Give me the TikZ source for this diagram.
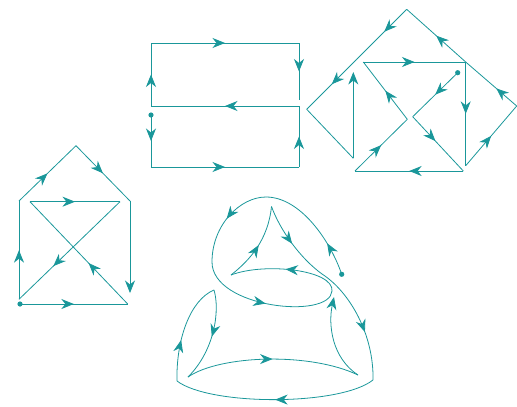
\documentclass[tikz,border=0pt]{standalone}
\usetikzlibrary{arrows.meta, decorations.markings}
\definecolor{pathteal}{HTML}{1A979A}

\begin{document}
\begin{tikzpicture}[x=1pt, y=-1pt,
                    >={Stealth[length=12.5pt, width=10pt, inset=4pt]},
                    seg/.style={pathteal, line width=0.8pt},
                    arr/.style={postaction={decorate, decoration={markings,
                        mark=at position #1 with {\arrow{>}}}}},
                    arr/.default=0.5]

  \useasboundingbox (0,0) rectangle (517,407);

  %% 圖一: 兩個相疊的長方形
  \coordinate (a1) at (151,115);
  \coordinate (a2) at (151,167);
  \coordinate (a3) at (299,167);
  \coordinate (a4) at (299,106);
  \coordinate (a5) at (151,106);
  \coordinate (a6) at (151,43);
  \coordinate (a7) at (299,43);
  \coordinate (a8) at (299,100);
  \fill[pathteal] (a1) circle (2.6);
  \draw[seg, arr] (a1) -- (a2);
  \draw[seg, arr] (a2) -- (a3);
  \draw[seg, arr] (a3) -- (a4);
  \draw[seg, arr] (a4) -- (a5);
  \draw[seg, arr] (a5) -- (a6);
  \draw[seg, arr] (a6) -- (a7);
  \draw[seg, arr] (a7) -- (a8);

  %% 圖二: 菱形與內部的折線
  \coordinate (b1) at (457.7,72.7);
  \coordinate (b2) at (412.7,116.7);
  \coordinate (b3) at (463.3,171);
  \coordinate (b4) at (355,171);
  \coordinate (b5) at (407.3,119.3);
  \coordinate (b6) at (363.3,62);
  \coordinate (b7) at (465.7,62);
  \coordinate (b8) at (465.7,165.7);
  \coordinate (b9) at (516.7,106);
  \coordinate (b10) at (406.7,9.3);
  \coordinate (b11) at (356.7,59.3);
  \coordinate (b12) at (306.7,109.3);
  \coordinate (b13) at (353.3,158.3);
  \coordinate (b14) at (353.3,72);
  \fill[pathteal] (b1) circle (2.6);
  \draw[seg, arr] (b1) -- (b2);
  \draw[seg, arr=0.45] (b2) -- (b3);
  \draw[seg, arr] (b3) -- (b4);
  \draw[seg, arr] (b4) -- (b5);
  \draw[seg, arr] (b5) -- (b6);
  \draw[seg, arr] (b6) -- (b7);
  \draw[seg, arr] (b7) -- (b8);
  \draw[seg, arr] (b8) -- (b9);
  \draw[seg, arr=0.4] (b9) -- (b7);
  \draw[seg, arr] (b7) -- (b10);
  \draw[seg, arr=0.45] (b10) -- (b11);
  \draw[seg, arr] (b11) -- (b12);
  \draw[seg] (b12) -- (b13);
  \draw[seg, ->] (b13) -- (b14);

  %% 圖三: 房子
  \coordinate (h0) at (20,304);
  \coordinate (h1) at (127.7,304);
  \coordinate (h2) at (30,201.7);
  \coordinate (h3) at (120,201.7);
  \coordinate (h4) at (19,299.3);
  \coordinate (h5) at (19,201);
  \coordinate (h6) at (76,145.7);
  \coordinate (h7) at (130,201);
  \coordinate (h8) at (130,293);
  \fill[pathteal] (h0) circle (2.6);
  \draw[seg, arr] (h0) -- (h1);
  \draw[seg, arr=0.4] (h1) -- (h2);
  \draw[seg, arr] (h2) -- (h3);
  \draw[seg, arr=0.66] (h3) -- (h4);
  \draw[seg, arr] (h4) -- (h5);
  \draw[seg, arr] (h5) -- (h6);
  \draw[seg, arr] (h6) -- (h7);
  \draw[seg, ->] (h7) -- (h8);

  %% 圖四: 曲線構成的圖形
  \coordinate (dD) at (341.7,274.3);
  \coordinate (dT) at (266,197);
  \coordinate (dL) at (212,262);
  \coordinate (dR) at (332,291);
  \coordinate (dC1) at (231,275);
  \coordinate (dC2) at (271.5,206.5);
  \coordinate (dM) at (322,274);
  \coordinate (dBR) at (373,380);
  \coordinate (dBL) at (177,381);
  \coordinate (dLT) at (214,290);
  \coordinate (dC3) at (188,377);
  \coordinate (dC4) at (358,375);
  \coordinate (dE) at (334,297);
  \fill[pathteal] (dD) circle (2.6);
  \draw[seg, arr=0.3] (dD) .. controls (330,240) and (300,197) .. (dT);
  \draw[seg, arr] (dT) .. controls (240,197) and (212,225) .. (dL);
  \draw[seg, arr] (dL) .. controls (212,308) and (330,320) .. (dR);
  \draw[seg, arr] (dR) .. controls (334,270) and (265,262) .. (dC1);
  \draw[seg, arr] (dC1) .. controls (250,260) and (268,240) .. (dC2);
  \draw[seg, arr] (dC2) .. controls (280,230) and (300,258) .. (dM);
  \draw[seg, arr=0.6] (dM) .. controls (350,292) and (374,335) .. (dBR);
  \draw[seg, arr] (dBR) .. controls (340,406) and (210,406) .. (dBL);
  \draw[seg, arr=0.4] (dBL) .. controls (176,340) and (190,300) .. (dLT);
  \draw[seg, arr] (dLT) .. controls (220,310) and (215,350) .. (dC3);
  \draw[seg, arr] (dC3) .. controls (220,355) and (310,352) .. (dC4);
  \draw[seg, ->] (dC4) .. controls (332,358) and (328,325) .. (dE);

\end{tikzpicture}
\end{document}
